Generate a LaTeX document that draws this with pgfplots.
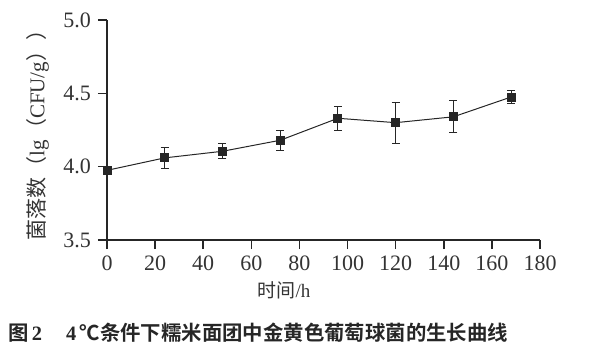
\documentclass[border=0pt]{standalone}
\usepackage{pgfplots}
\pgfplotsset{compat=1.18}
\usepackage{fontspec}
\setmainfont{Liberation Serif}
\newfontfamily\cjk[BoldFont={Noto Sans CJK SC Bold}]{Noto Sans CJK SC}
\begin{document}
\begin{tikzpicture}
\path[use as bounding box] (-53.5pt,-57pt) rectangle (242.5pt,120pt);
\begin{axis}[
  scale only axis, width=216.5pt, height=110pt,
  xmin=0, xmax=180, ymin=3.5, ymax=5.0,
  axis lines=left, axis line style={-, line width=0.8pt, black!85},
  xtick={0,20,...,180}, ytick={3.5,4.0,4.5,5.0},
  yticklabel style={/pgf/number format/.cd, fixed, fixed zerofill, precision=1},
  tick align=outside, major tick length=4.5pt,
  tick style={line width=0.8pt, black!85},
  /pgf/number format/assume math mode=true,
  ticklabel style={font=\fontsize{11}{12}\selectfont, text=black!80},
  xlabel={{\cjk 时间}/h},
  xlabel style={at={(axis description cs:0.409,-0.227)}, anchor=center, font=\fontsize{9.5}{10}\selectfont, text=black!80},
  ylabel={{\cjk 菌落数（}lg{\cjk （}CFU/g{\cjk ））}},
  ylabel style={at={(axis description cs:-0.16,0.5)}, anchor=center, rotate=0, font=\fontsize{10.5}{11}\selectfont, text=black!80},
  clip=false
]
\addplot[black!85, line width=0.5pt, mark=square*, mark size=2pt,
  error bars/.cd, y dir=both, y explicit,
  error bar style={line width=0.5pt, black!85},
  error mark options={rotate=90, mark size=2pt, line width=0.5pt, black!85}]
  table[x=t, y=y, y error=e] {
t   y     e
0   3.975 0.005
24  4.06  0.07
48  4.105 0.05
72  4.18  0.07
96  4.33  0.08
120 4.30  0.14
144 4.34  0.11
168 4.475 0.045
};
\end{axis}
\node[anchor=west, font=\fontsize{10.2}{12}\selectfont, text=black!85] at (-53pt,-46.5pt)
  {\textbf{{\cjk 图}\,2}\hspace{12pt}\textbf{4\,{\cjk ℃条件下糯米面团中金黄色葡萄球菌的生长曲线}}};
\end{tikzpicture}
\end{document}
